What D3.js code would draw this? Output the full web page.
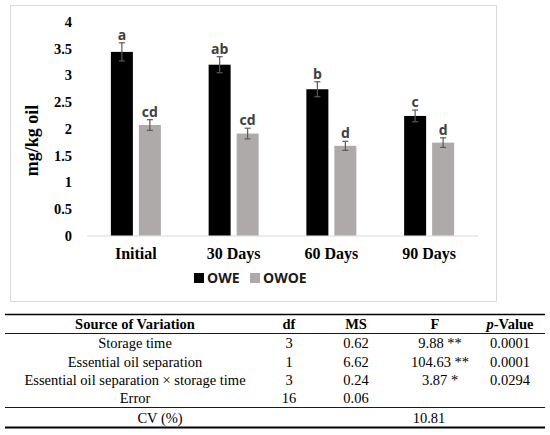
<!DOCTYPE html>
<html>
    <head>
        <meta charset="utf-8" />
        <style>
            body{ margin: 0; background: #fff; }
            svg{ display: block; }
            .tick-label, .cat-label, .y-title{ font-family: "Liberation Serif", "Times New Roman", serif; font-weight: bold; fill: #000; }
            .letter, .legend-text{ font-family: "Open Sans", sans-serif; font-weight: bold; font-size: 14px; }
            .tbl{ font-family: "Liberation Serif", "Times New Roman", serif; font-size: 14.5px; fill: #000; }
        </style>
    </head>
    <body>
        <svg id="chart" width="550" height="435"></svg>
        <script src="https://cdnjs.cloudflare.com/ajax/libs/d3/7.8.5/d3.min.js" charset="utf-8"></script>
        <script>
            // values
            var categories = ['Initial', '30 Days', '60 Days', '90 Days'];
            var series = ['OWE', 'OWOE'];
            var owe = [3.44, 3.20, 2.74, 2.24];
            var oweErr = [0.17, 0.15, 0.14, 0.11];
            var oweLetters = ['a', 'ab', 'b', 'c'];
            var owoe = [2.07, 1.91, 1.68, 1.74];
            var owoeErr = [0.10, 0.10, 0.085, 0.09];
            var owoeLetters = ['cd', 'cd', 'd', 'd'];
            var yTicks = [0, 0.5, 1, 1.5, 2, 2.5, 3, 3.5, 4];

            // ANOVA table
            var tableHeader = ['Source of Variation', 'df', 'MS', 'F', 'p-Value'];
            var sources = ['Storage time', 'Essential oil separation', 'Essential oil separation \u00d7 storage time', 'Error'];
            var dfs = ['3', '1', '3', '16'];
            var ms = ['0.62', '6.62', '0.24', '0.06'];
            var fVals = ['9.88 **', '104.63 **', '3.87 *', ''];
            var pVals = ['0.0001', '0.0001', '0.0294', ''];
            var cvLabel = 'CV (%)';
            var cvValue = '10.81';

            var colors = { OWE: '#000000', OWOE: '#aeaaaa' };

            var svg = d3.select('#chart');

            // chart frame
            svg.append('rect')
                .attr('x', 10.5).attr('y', 5.5)
                .attr('width', 486).attr('height', 296)
                .attr('fill', '#fff')
                .attr('stroke', '#d9d9d9');

            var x0 = d3.scaleBand().domain(categories).range([87, 478]).paddingInner(0).paddingOuter(0);
            var x1 = d3.scaleBand().domain(series).range([0, x0.bandwidth()]).paddingInner(0.214).paddingOuter(0.853);
            var y = d3.scaleLinear().domain([0, 4]).range([235.5, 22]);

            // y tick labels
            svg.append('g').selectAll('.tick-label')
                .data(yTicks)
                .enter().append('text')
                .attr('class', 'tick-label')
                .attr('x', 72)
                .attr('y', function(d){ return y(d); })
                .attr('dy', '0.35em')
                .attr('text-anchor', 'end')
                .style('font-size', '14.5px')
                .text(function(d){ return d; });

            svg.append('text')
                .attr('class', 'y-title')
                .attr('transform', 'translate(37.5,140.5) rotate(-90)')
                .attr('text-anchor', 'middle')
                .style('font-size', '18px')
                .text('mg/kg oil');

            // baseline
            svg.append('line')
                .attr('x1', 87).attr('x2', 478)
                .attr('y1', y(0) + 0.5).attr('y2', y(0) + 0.5)
                .attr('stroke', '#d9d9d9');

            var rows = [];
            categories.forEach(function(c, i){
                rows.push({ cat: c, s: 'OWE', v: owe[i], e: oweErr[i], l: oweLetters[i] });
                rows.push({ cat: c, s: 'OWOE', v: owoe[i], e: owoeErr[i], l: owoeLetters[i] });
            });

            var bars = svg.append('g');
            bars.selectAll('rect')
                .data(rows)
                .enter().append('rect')
                .attr('x', function(d){ return x0(d.cat) + x1(d.s); })
                .attr('width', x1.bandwidth())
                .attr('y', function(d){ return y(d.v); })
                .attr('height', function(d){ return y(0) - y(d.v); })
                .attr('fill', function(d){ return colors[d.s]; });

            // error bars
            var err = svg.append('g').attr('stroke', '#5a5a5a').attr('stroke-width', 1.2);
            rows.forEach(function(d){
                var cx = x0(d.cat) + x1(d.s) + x1.bandwidth() / 2;
                err.append('line').attr('x1', cx).attr('x2', cx).attr('y1', y(d.v + d.e)).attr('y2', y(d.v - d.e));
                err.append('line').attr('x1', cx - 3).attr('x2', cx + 3).attr('y1', y(d.v + d.e)).attr('y2', y(d.v + d.e));
                err.append('line').attr('x1', cx - 3).attr('x2', cx + 3).attr('y1', y(d.v - d.e)).attr('y2', y(d.v - d.e));
            });

            svg.append('g').selectAll('.letter')
                .data(rows)
                .enter().append('text')
                .attr('class', 'letter')
                .attr('x', function(d){ return x0(d.cat) + x1(d.s) + x1.bandwidth() / 2; })
                .attr('y', function(d){ return y(d.v + d.e) - 3; })
                .attr('text-anchor', 'middle')
                .attr('fill', '#404040')
                .text(function(d){ return d.l; });

            svg.append('g').selectAll('.cat-label')
                .data(categories)
                .enter().append('text')
                .attr('class', 'cat-label')
                .attr('x', function(d){ return x0(d) + x0.bandwidth() / 2; })
                .attr('y', 259)
                .attr('text-anchor', 'middle')
                .style('font-size', '16px')
                .text(function(d){ return d; });

            // legend
            var legendX = [194, 250];
            var legend = svg.append('g').selectAll('.legend')
                .data(series)
                .enter().append('g');
            legend.append('rect')
                .attr('x', function(d, i){ return legendX[i]; })
                .attr('y', 273)
                .attr('width', 10).attr('height', 10)
                .attr('fill', function(d){ return colors[d]; });
            legend.append('text')
                .attr('class', 'legend-text')
                .attr('x', function(d, i){ return legendX[i] + 13; })
                .attr('y', 282.5)
                .attr('fill', '#1a1a1a')
                .text(function(d){ return d; });

            // table
            var tbl = svg.append('g');
            var colX = [135, 289, 356, 440, 510];
            var headX = [135, 289, 356, 435, 510];
            var rowY = [348, 366.5, 385, 403];

            [[314.5, 1.6], [333.5, 0.9], [407.5, 0.9], [427.5, 1.8]].forEach(function(r){
                tbl.append('line').attr('x1', 5).attr('x2', 545)
                    .attr('y1', r[0]).attr('y2', r[0])
                    .attr('stroke', '#000').attr('stroke-width', r[1]);
            });

            tbl.selectAll('.head')
                .data(tableHeader)
                .enter().append('text')
                .attr('class', 'tbl')
                .attr('x', function(d, i){ return headX[i]; })
                .attr('y', 329)
                .attr('text-anchor', 'middle')
                .style('font-weight', 'bold')
                .each(function(d){
                    var t = d3.select(this);
                    if(d == 'p-Value'){
                        t.append('tspan').style('font-style', 'italic').text('p');
                        t.append('tspan').text('-Value');
                    }else{
                        t.text(d);
                    }
                });

            var cols = [sources, dfs, ms, fVals, pVals];
            cols.forEach(function(col, ci){
                tbl.selectAll('.c' + ci)
                    .data(col)
                    .enter().append('text')
                    .attr('class', 'tbl c' + ci)
                    .attr('x', colX[ci])
                    .attr('y', function(d, i){ return rowY[i]; })
                    .attr('text-anchor', 'middle')
                    .text(function(d){ return d; });
            });

            tbl.append('text').attr('class', 'tbl')
                .attr('x', 160).attr('y', 423)
                .attr('text-anchor', 'middle').text(cvLabel);
            tbl.append('text').attr('class', 'tbl')
                .attr('x', 429).attr('y', 423)
                .attr('text-anchor', 'middle').text(cvValue);
        </script>
    </body>
</html>
